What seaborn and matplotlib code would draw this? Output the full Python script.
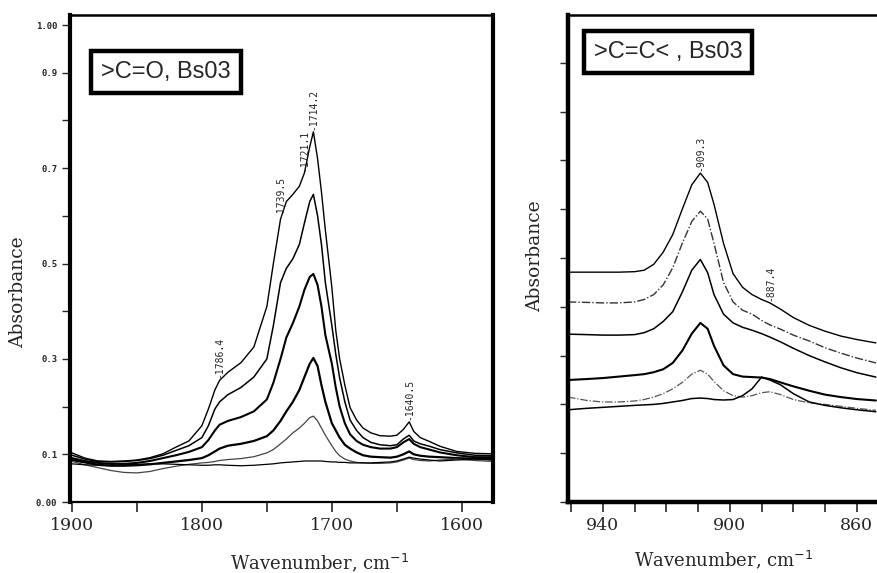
import matplotlib
matplotlib.use("Agg")
import matplotlib.pyplot as plt
import pandas as pd
import seaborn as sns

# ---------------- carbonyl region (>C=O) ----------------
wn_co = [1900, 1890, 1880, 1870, 1860, 1850, 1840, 1830, 1820, 1810,
         1800, 1795, 1790, 1786.4, 1780, 1770, 1760, 1750, 1745, 1739.5,
         1735, 1730, 1725, 1721.1, 1717, 1714.2, 1711, 1708, 1705, 1700,
         1697, 1694, 1690, 1686, 1681, 1676, 1670, 1663, 1655, 1650,
         1645, 1640.5, 1637, 1632, 1625, 1617, 1604, 1590, 1576]

co_1 = [.103, .092, .086, .085, .086, .088, .093, .101, .115, .128,
        .160, .195, .235, .255, .272, .292, .325, .410, .500, .593,
        .630, .645, .662, .690, .745, .776, .720, .650, .570, .450,
        .360, .300, .245, .198, .172, .155, .145, .139, .138, .140,
        .152, .168, .148, .135, .127, .117, .106, .102, .101]

co_2 = [.098, .090, .085, .084, .085, .087, .091, .098, .108, .118,
        .135, .160, .195, .210, .225, .240, .262, .300, .370, .460,
        .490, .510, .540, .585, .630, .645, .600, .540, .460, .370,
        .310, .260, .210, .172, .150, .135, .125, .120, .118, .120,
        .132, .140, .128, .122, .117, .110, .103, .098, .097]

co_3 = [.092, .086, .082, .080, .080, .082, .086, .092, .098, .105,
        .115, .130, .150, .162, .170, .178, .190, .215, .250, .300,
        .345, .375, .410, .445, .472, .478, .455, .410, .350, .290,
        .240, .200, .165, .142, .128, .120, .115, .112, .112, .115,
        .125, .132, .122, .115, .110, .104, .098, .094, .094]

co_4 = [.088, .083, .078, .076, .076, .077, .079, .082, .085, .088,
        .092, .098, .106, .112, .118, .122, .128, .138, .150, .170,
        .190, .210, .235, .262, .290, .302, .285, .245, .210, .165,
        .150, .135, .120, .112, .104, .098, .095, .094, .093, .095,
        .100, .106, .100, .097, .095, .094, .092, .091, .090]

co_5 = [.085, .078, .072, .066, .062, .061, .064, .070, .075, .079,
        .082, .083, .085, .087, .089, .091, .095, .103, .110, .122,
        .132, .145, .155, .165, .177, .180, .170, .155, .140, .118,
        .106, .097, .090, .086, .083, .082, .081, .081, .082, .084,
        .088, .092, .089, .087, .086, .088, .090, .087, .085]

co_6 = [.080, .078, .077, .077, .078, .079, .080, .080, .079, .078,
        .077, .077, .078, .078, .077, .076, .077, .079, .080, .082,
        .083, .084, .085, .086, .086, .086, .086, .086, .085, .084,
        .084, .083, .083, .082, .082, .082, .082, .083, .084, .086,
        .090, .094, .092, .090, .088, .086, .088, .090, .088]

co_peaks = [1786.4, 1739.5, 1721.1, 1714.2, 1640.5]
co_peak_abs = [0.255, 0.593, 0.690, 0.776, 0.168]

# ---------------- vinyl region (>C=C<) ----------------
wn_cc = [951, 945, 940, 935, 930, 927, 924, 921, 918, 915,
         912, 909.3, 907, 905, 902, 899, 896, 893, 890, 887.4,
         884, 880, 875, 870, 865, 860, 854]

cc_1 = [.471, .471, .471, .471, .472, .475, .487, .512, .548, .600,
        .650, .674, .655, .610, .530, .468, .440, .425, .415, .408,
        .395, .378, .362, .350, .340, .333, .326]

cc_2 = [.410, .409, .408, .408, .410, .415, .425, .445, .480, .530,
        .575, .596, .580, .530, .450, .410, .393, .385, .372, .363,
        .354, .342, .330, .316, .305, .295, .285]

cc_3 = [.344, .343, .342, .342, .343, .347, .355, .370, .390, .430,
        .475, .497, .470, .425, .385, .367, .358, .352, .345, .338,
        .328, .315, .300, .287, .275, .265, .256]

cc_4 = [.250, .252, .254, .257, .260, .262, .266, .272, .285, .310,
        .345, .367, .355, .320, .280, .262, .257, .256, .255, .252,
        .245, .237, .228, .220, .215, .211, .208]

cc_5 = [.215, .208, .205, .205, .207, .210, .215, .222, .232, .245,
        .262, .270, .262, .247, .228, .218, .215, .218, .224, .226,
        .220, .210, .203, .200, .196, .192, .188]

cc_6 = [.189, .192, .194, .196, .198, .199, .200, .202, .205, .208,
        .212, .213, .212, .210, .209, .210, .218, .232, .256, .250,
        .240, .222, .205, .198, .193, .189, .185]

cc_peaks = [909.3, 887.4]
cc_peak_abs = [0.674, 0.408]

# axis ticks and labels
co_yticks = [0.0, 0.1, 0.2, 0.3, 0.4, 0.5, 0.6, 0.7, 0.8, 0.9, 1.0]
co_ylabels = ["0.00", "0.1", "", "0.3", "", "0.5", "", "0.7", "", "0.9", "1.00"]
co_xticks = [1900, 1800, 1700, 1600]
co_xminor = [1850, 1750, 1650]
cc_yticks = [0.0, 0.1, 0.2, 0.3, 0.4, 0.5, 0.6, 0.7, 0.8, 0.9]
cc_xticks = [940, 900, 860]
cc_xminor = [950, 930, 920, 910, 890, 880, 870]

co_title = ">C=O, Bs03"
cc_title = ">C=C< , Bs03"
xlabel = "Wavenumber, cm$^{-1}$"
ylabel = "Absorbance"

sns.set_theme(style="ticks")
plt.rcParams["font.family"] = ["DejaVu Sans"]

W, H = 877, 573
fig = plt.figure(figsize=(W / 100, H / 100), dpi=100)
fig.patch.set_facecolor("white")
ax1 = fig.add_axes([70 / W, 1 - 502 / H, 423 / W, 487 / H])
ax2 = fig.add_axes([568 / W, 1 - 502 / H, 312 / W, 487 / H])

co_styles = [
    (co_1, "black", 1.0, "-"),
    (co_2, "black", 1.1, "-"),
    (co_3, "black", 1.5, "-"),
    (co_4, "black", 1.6, "-"),
    (co_5, "#444444", 0.9, "-"),
    (co_6, "black", 0.9, "-"),
]
for vals, col, lw, ls in co_styles:
    df = pd.DataFrame({"wavenumber": wn_co, "absorbance": vals})
    sns.lineplot(data=df, x="wavenumber", y="absorbance", ax=ax1, color=col,
                 linewidth=lw, linestyle=ls, sort=False, estimator=None)

cc_styles = [
    (cc_1, "black", 1.0, "-"),
    (cc_2, "#333333", 1.0, (0, (6, 1.5, 1, 1.5))),
    (cc_3, "black", 1.1, "-"),
    (cc_4, "black", 1.5, "-"),
    (cc_5, "#555555", 0.9, (0, (6, 1.5, 1, 1.5))),
    (cc_6, "black", 1.1, "-"),
]
for vals, col, lw, ls in cc_styles:
    df = pd.DataFrame({"wavenumber": wn_cc, "absorbance": vals})
    sns.lineplot(data=df, x="wavenumber", y="absorbance", ax=ax2, color=col,
                 linewidth=lw, linestyle=ls, sort=False, estimator=None)

# peak labels
for wn, a in zip(co_peaks, co_peak_abs):
    ax1.text(wn, a + 0.004, f"-{wn:.1f}", rotation=90, ha="center", va="bottom",
             fontsize=7, family="DejaVu Sans Mono")
for wn, a in zip(cc_peaks, cc_peak_abs):
    ax2.text(wn, a + 0.004, f"-{wn:.1f}", rotation=90, ha="center", va="bottom",
             fontsize=7, family="DejaVu Sans Mono")

# left axes frame and ticks
ax1.set_xlim(1901.5, 1576)
ax1.set_ylim(0, 1.021)
ax1.set_xticks(co_xticks, labels=[str(t) for t in co_xticks],
               fontsize=12.5, fontfamily="DejaVu Serif")
ax1.set_xticks(co_xminor, minor=True)
ax1.set_yticks(co_yticks, labels=co_ylabels, fontsize=6.5,
               fontfamily="DejaVu Sans Mono", fontweight="bold")
ax1.tick_params(axis="x", which="both", direction="out", length=7, width=1.2, pad=4)
ax1.tick_params(axis="y", direction="out", length=6, width=1.0, pad=3)
for side, lw in [("left", 3.0), ("right", 3.0), ("top", 1.8), ("bottom", 1.6)]:
    ax1.spines[side].set_visible(True)
    ax1.spines[side].set_linewidth(lw)
    ax1.spines[side].set_color("black")
ax1.set_xlabel("")
ax1.set_ylabel("")

# right axes frame and ticks
ax2.set_xlim(951, 852.7)
ax2.set_ylim(0, 0.998)
ax2.set_xticks(cc_xticks, labels=[str(t) for t in cc_xticks],
               fontsize=12.5, fontfamily="DejaVu Serif")
ax2.set_xticks(cc_xminor, minor=True)
ax2.set_yticks(cc_yticks, labels=[""] * len(cc_yticks))
ax2.tick_params(axis="x", which="both", direction="out", length=7, width=1.2, pad=4)
ax2.tick_params(axis="y", direction="out", length=6, width=1.0)
for side, lw in [("left", 3.2), ("top", 1.8), ("bottom", 3.2)]:
    ax2.spines[side].set_visible(True)
    ax2.spines[side].set_linewidth(lw)
    ax2.spines[side].set_color("black")
ax2.spines["right"].set_visible(False)
ax2.set_xlabel("")
ax2.set_ylabel("")

# panel titles in framed boxes
box = dict(boxstyle="square,pad=0.42", fc="white", ec="black", lw=3.2)
fig.text(166 / W, 1 - 72 / H, co_title, ha="center", va="center", fontsize=17,
         family="Liberation Sans", bbox=box)
fig.text(668 / W, 1 - 52 / H, cc_title, ha="center", va="center", fontsize=17,
         family="Liberation Sans", bbox=box)

# axis titles
fig.text(320 / W, 1 - 563 / H, xlabel, ha="center", va="center", fontsize=13,
         family="DejaVu Serif")
fig.text(724 / W, 1 - 560 / H, xlabel, ha="center", va="center", fontsize=13,
         family="DejaVu Serif")
fig.text(18 / W, 1 - 292 / H, ylabel, ha="center", va="center", rotation=90,
         fontsize=13.5, family="DejaVu Serif")
fig.text(535 / W, 1 - 256 / H, ylabel, ha="center", va="center", rotation=90,
         fontsize=13.5, family="DejaVu Serif")

fig.savefig("out.png", dpi=100, facecolor="white")
